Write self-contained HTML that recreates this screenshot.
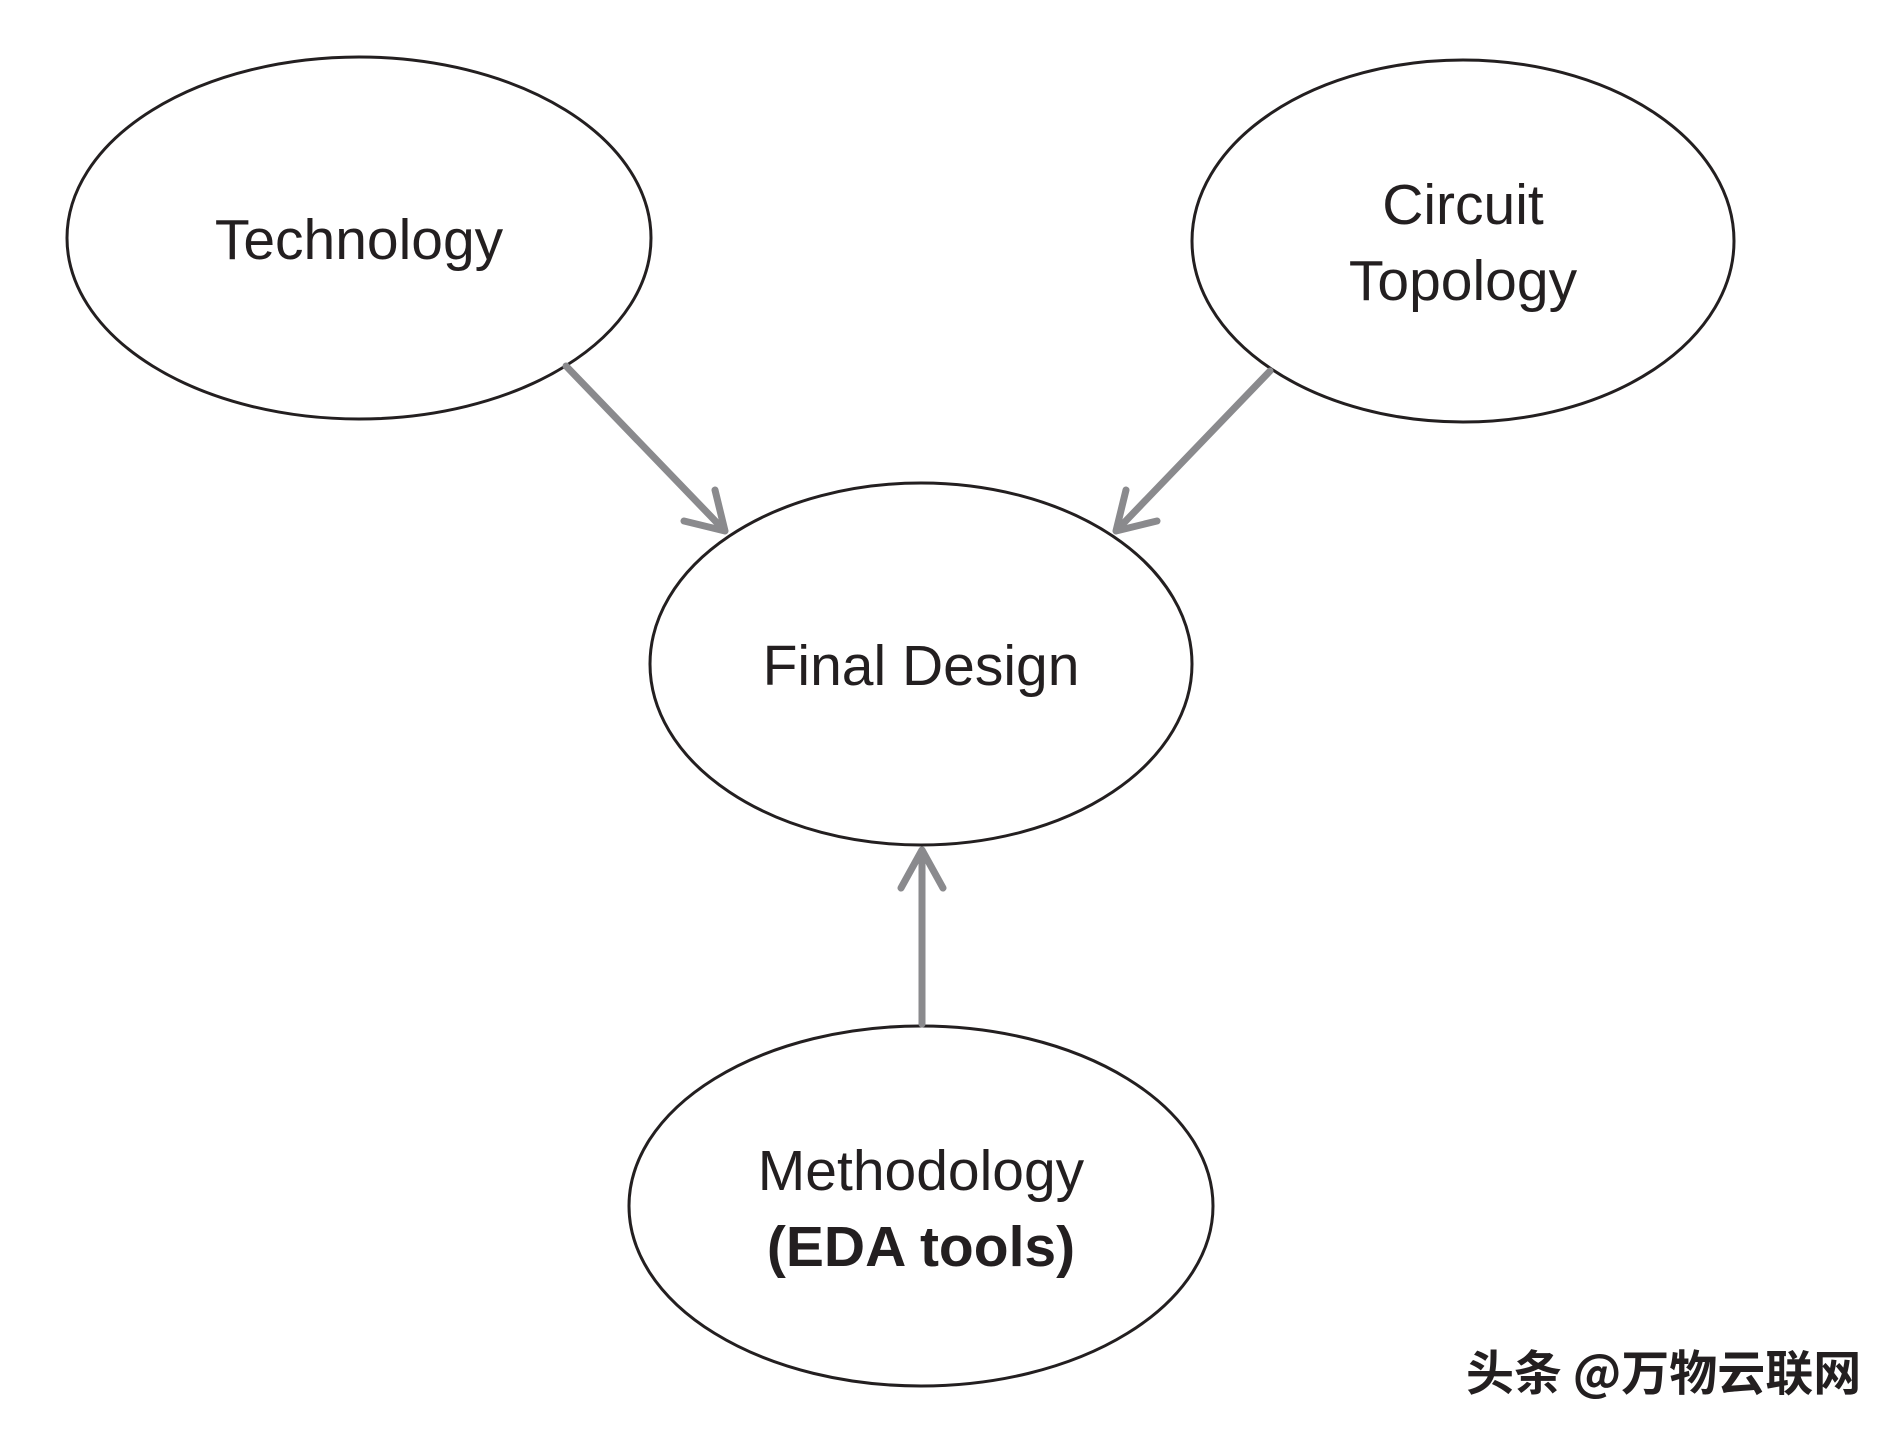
<!DOCTYPE html>
<html><head><meta charset="utf-8"><style>
html,body{margin:0;padding:0;background:#fff;}
svg{display:block;}
text{font-family:"Liberation Sans","Noto Sans CJK SC",sans-serif;fill:#231f20;}
</style></head><body>
<svg width="1900" height="1431" viewBox="0 0 1900 1431" xmlns="http://www.w3.org/2000/svg">
<g fill="none" stroke="#231f20" stroke-width="3">
<ellipse cx="359" cy="238" rx="292" ry="181"/>
<ellipse cx="1463" cy="241" rx="271" ry="181"/>
<ellipse cx="921" cy="664" rx="271" ry="181"/>
<ellipse cx="921" cy="1206" rx="292" ry="180"/>
</g>
<g fill="none" stroke="#8a8a8d" stroke-width="7" stroke-linecap="round" stroke-linejoin="round">
<line x1="566" y1="366" x2="723" y2="529"/>
<polyline points="684,521 725,531 715,490"/>
<line x1="1270" y1="371" x2="1118" y2="529"/>
<polyline points="1157,521 1116,531 1126,490"/>
<line x1="922" y1="1024" x2="922" y2="853"/>
<polyline points="901,888 922,850 943,888"/>
</g>
<g font-size="57" text-anchor="middle">
<text x="359" y="259">Technology</text>
<text x="1463" y="224">Circuit</text>
<text x="1463" y="300">Topology</text>
<text x="921" y="685">Final Design</text>
<text x="921" y="1190">Methodology</text>
<text x="921" y="1266" font-weight="bold">(EDA tools)</text>
</g>
<text x="1466" y="1390" font-size="48" font-weight="bold" style="font-family:'Noto Sans CJK SC',sans-serif">头条 @万物云联网</text>
</svg>
</body></html>
